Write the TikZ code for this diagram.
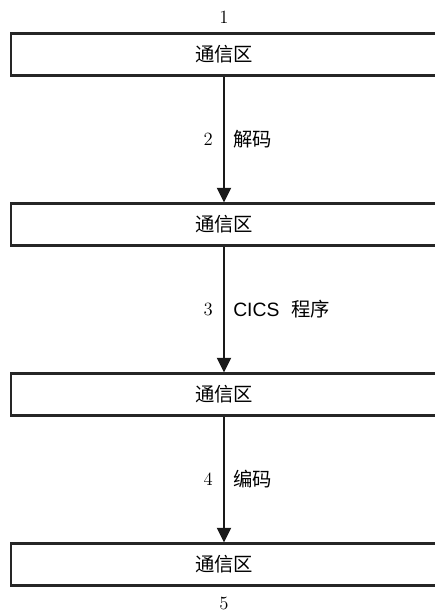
\documentclass[tikz,border=0pt]{standalone}
\usepackage{fontspec}
\setsansfont{Liberation Sans}
\newfontfamily\cjk{Noto Sans CJK SC}
\usetikzlibrary{arrows.meta}
\begin{document}
\begin{tikzpicture}[x=0.75pt,y=-0.75pt,
  area/.style={draw=black!85,line width=1.6pt,minimum width=426*0.75pt,minimum height=42*0.75pt,inner sep=0pt,font=\cjk\fontsize{14.5}{16}\selectfont},
  flow/.style={draw=black!90,line width=1.8pt,-{Triangle[length=11pt,width=10.5pt]}},
  num/.style={font=\fontsize{14}{16}\selectfont,inner sep=0pt},
  lab/.style={font=\cjk\fontsize{14.5}{16}\selectfont,inner sep=0pt}]
\useasboundingbox (0,0) rectangle (435,614);
\clip (0,0) rectangle (435,614);
\node[area] (b1) at (224,54.5) {通信区};
\node[area] (b2) at (224,224.5) {通信区};
\node[area] (b3) at (224,394.5) {通信区};
\node[area] (b4) at (224,564.5) {通信区};
\node[num] (n1) at (224,17) {1};
\node[num] (n5) at (224,603) {5};
\draw[flow] (b1.south) -- (b2.north) coordinate[pos=0.5] (m1);
\draw[flow] (b2.south) -- (b3.north) coordinate[pos=0.5] (m2);
\draw[flow] (b3.south) -- (b4.north) coordinate[pos=0.5] (m3);
\node[num,anchor=east] (n2) at ([xshift=-11*0.75pt]m1) {2};
\node[lab,anchor=west] (l2) at ([xshift=9*0.75pt]m1) {解码};
\node[num,anchor=east] (n3) at ([xshift=-11*0.75pt]m2) {3};
\node[lab,anchor=west] (l3) at ([xshift=9*0.75pt]m2) {{\sffamily CICS}\hspace{0.6em}程序};
\node[num,anchor=east] (n4) at ([xshift=-11*0.75pt]m3) {4};
\node[lab,anchor=west] (l4) at ([xshift=9*0.75pt]m3) {编码};
\end{tikzpicture}
\end{document}
